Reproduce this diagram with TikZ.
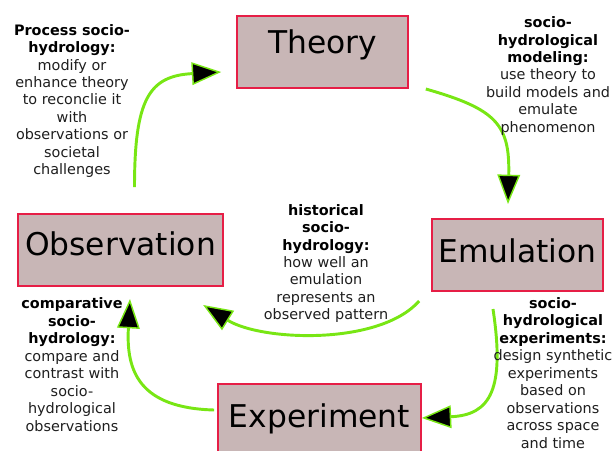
\documentclass[tikz,border=0pt]{standalone}
\usepackage{fontspec}
\setmainfont{DejaVu Sans}
\usetikzlibrary{arrows.meta,calc}

\definecolor{boxfill}{RGB}{200,182,182}
\definecolor{boxline}{RGB}{230,30,70}
\definecolor{flowgreen}{RGB}{120,230,20}
\definecolor{notegray}{RGB}{30,30,30}

\begin{document}
\begin{tikzpicture}[x=0.75pt,y=0.75pt,yscale=-1,xscale=1,
  stage/.style={draw=boxline,fill=boxfill,line width=1.5pt,inner sep=0pt,
    minimum height=54pt,font=\fontsize{23.5}{28}\selectfont,text height=18pt},
  flow/.style={draw=flowgreen,line width=2.2pt,
    -{Triangle[length=22pt,width=17pt,fill=black,line width=1.1pt]}},
  note/.style={align=center,inner sep=0.75pt,text=notegray,
    font=\fontsize{10.8}{13.1}\selectfont}]
\useasboundingbox (0,0) rectangle (613,450);

%Shape: Rectangle [Theory]
\node (theory) [stage,minimum width=128pt,text depth=16pt] at (322.5,52) {Theory};
%Shape: Rectangle [Observation]
\node (obs) [stage,minimum width=154pt,text depth=10pt] at (120.5,250) {Observation};
%Shape: Rectangle [Emulation]
\node (emul) [stage,minimum width=128pt,text depth=7pt] at (517.5,255) {Emulation};
%Shape: Rectangle [Experiment]
\node (exper) [stage,minimum width=152pt,text depth=7pt] at (319.5,420) {Experiment};

%Curve Lines [observation to theory]
\draw [flow] ($(obs.north)+(14,-26)$) .. controls +(0,-88) and +(-72,4) .. ($(theory.west)+(-15,20)$) ;
%Curve Lines [theory to emulation]
\draw [flow] ($(theory.south east)+(17,0)$) .. controls +(70,20) and +(2,-80) .. ($(emul.north)+(-9.5,-14)$) ;
%Curve Lines [emulation to observation]
\draw [flow] ($(emul.south west)+(-12,9)$) .. controls +(-40,45) and +(58,36) .. ($(obs.south east)+(-21,18)$) ;
%Curve Lines [emulation to experiment]
\draw [flow] ($(emul.south)+(-24.5,17)$) .. controls +(12,80) and +(69,-3) .. ($(exper.east)+(0,-2)$) ;
%Curve Lines [experiment to observation]
\draw [flow] ($(exper.west)+(-3,-10)$) .. controls +(-75,-2) and +(-4,72) .. ($(obs.south)+(9.5,12)$) ;

% Text Node
\node (process) [note] at (72,101) {\textbf{\color{black}Process socio-}\\\textbf{\color{black}hydrology:}\\modify or\\enhance theory\\to reconclie it\\with\\observations or\\societal\\challenges};
% Text Node
\node (modeling) [note] at (548,76) {\textbf{\color{black}socio-}\\\textbf{\color{black}hydrological}\\\textbf{\color{black}modeling:}\\use theory to\\build models and\\emulate\\phenomenon};
% Text Node
\node (historical) [note] at (326,263.5) {\textbf{\color{black}historical}\\\textbf{\color{black}socio-}\\\textbf{\color{black}hydrology:}\\how well an\\emulation\\represents an\\observed pattern};
% Text Node
\node (comparative) [note] at (72,364.5) {\textbf{\color{black}comparative}\\\textbf{\color{black}socio-}\\\textbf{\color{black}hydrology:}\\compare and\\contrast with\\socio-\\hydrological\\observations};
% Text Node
\node (experiments) [note] at (553,373) {\textbf{\color{black}socio-}\\\textbf{\color{black}hydrological}\\\textbf{\color{black}experiments:}\\design synthetic\\experiments\\based on\\observations\\across space\\and time};

\end{tikzpicture}
\end{document}
